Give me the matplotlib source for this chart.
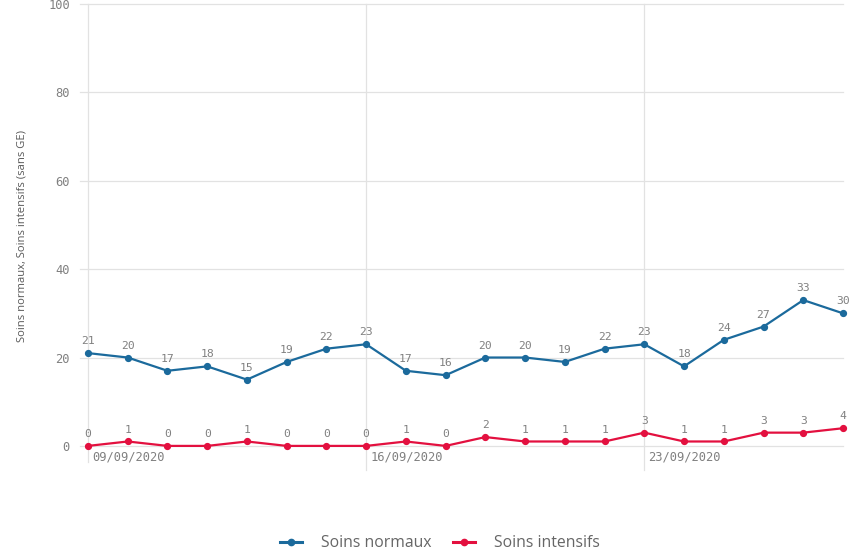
import matplotlib.pyplot as plt
from matplotlib.lines import Line2D

# daily values 09/09/2020 -> 28/09/2020
days = list(range(20))
soins_normaux = [21, 20, 17, 18, 15, 19, 22, 23, 17, 16, 20, 20, 19, 22, 23, 18, 24, 27, 33, 30]
soins_intensifs = [0, 1, 0, 0, 1, 0, 0, 0, 1, 0, 2, 1, 1, 1, 3, 1, 1, 3, 3, 4]
date_ticks = [0, 7, 14]
date_labels = ['09/09/2020', '16/09/2020', '23/09/2020']
y_ticks = [0, 20, 40, 60, 80, 100]

blue = '#1b6a9c'
red = '#e3103f'
grid_c = '#e2e2e2'
txt_c = '#808080'
mono = 'DejaVu Sans Mono'

fig = plt.figure(figsize=(8.54, 5.55), dpi=100)
ax = fig.add_axes([88 / 854, 1 - 468 / 555, (843 - 88) / 854, (468 - 4) / 555])

ax.set_xlim(0, 19)
ax.set_ylim(-5, 100)

for s in ax.spines.values():
    s.set_visible(False)

# horizontal grid, with the little tick stubs on the left
for yv in y_ticks:
    ax.plot([-0.2, 19], [yv, yv], color=grid_c, lw=0.9, clip_on=False, zorder=0)
# vertical lines at weeks
ax.plot([0, 0], [-3.6, 100], color=grid_c, lw=0.9, clip_on=False, zorder=0)
for xv in date_ticks[1:]:
    ax.plot([xv, xv], [-5.5, 100], color=grid_c, lw=0.9, clip_on=False, zorder=0)

ax.set_xticks([])
ax.set_yticks(y_ticks)
ax.set_yticklabels([str(v) for v in y_ticks], fontfamily=mono, fontsize=8.7, color=txt_c)
ax.tick_params(axis='y', length=0, pad=13)

for xv, lab in zip(date_ticks, date_labels):
    ax.annotate(lab, (xv, 0), xytext=(4, -11), textcoords='offset pixels',
                ha='left', va='center', fontfamily=mono, fontsize=8.7, color=txt_c,
                annotation_clip=False)

ax.plot(days, soins_normaux, color=blue, lw=1.6, marker='o', ms=4.2, clip_on=False, zorder=3)
ax.plot(days, soins_intensifs, color=red, lw=1.6, marker='o', ms=4.2, clip_on=False, zorder=3)

for xv, yv in zip(days, soins_normaux):
    ax.annotate(str(yv), (xv, yv), xytext=(0, 5), textcoords='offset points',
                ha='center', va='bottom', fontfamily=mono, fontsize=8.2, color=txt_c,
                annotation_clip=False)
for xv, yv in zip(days, soins_intensifs):
    ax.annotate(str(yv), (xv, yv), xytext=(0, 5), textcoords='offset points',
                ha='center', va='bottom', fontfamily=mono, fontsize=8.2, color=txt_c,
                annotation_clip=False)

ax.set_ylabel('Soins normaux, Soins intensifs (sans GE)', fontfamily='Open Sans',
              fontsize=8.1, color='#595959')
ax.yaxis.set_label_coords(-0.0795, 0.5)

handles = [Line2D([0], [0], color=blue, lw=2.2, marker='o', ms=4.5),
           Line2D([0], [0], color=red, lw=2.2, marker='o', ms=4.5)]
fig.legend(handles, ['Soins normaux', 'Soins intensifs'], loc='center',
           bbox_to_anchor=(0.515, 1 - 543 / 555), ncol=2, frameon=False,
           handlelength=1.4, columnspacing=1.4, handletextpad=1.2,
           prop={'family': 'Open Sans', 'size': 11.3}, labelcolor='#666666')

fig.savefig('out.png', dpi=100)
